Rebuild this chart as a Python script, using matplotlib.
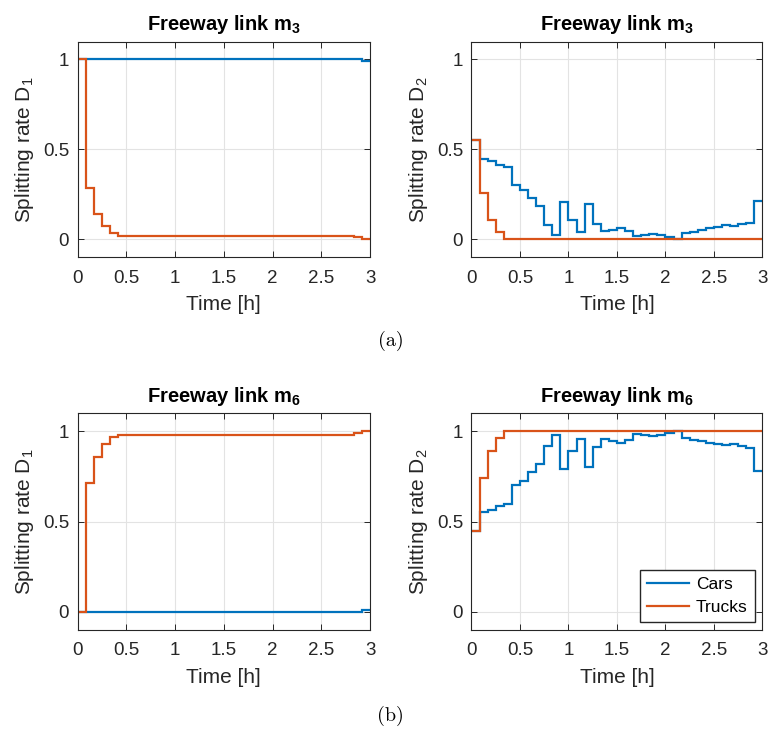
import matplotlib
matplotlib.use("Agg")
import matplotlib.pyplot as plt
import numpy as np

plt.rcParams['font.family'] = ['Liberation Sans', 'DejaVu Sans']
plt.rcParams['mathtext.fontset'] = 'custom'
plt.rcParams['mathtext.rm'] = 'Liberation Sans'
plt.rcParams['mathtext.bf'] = 'Liberation Sans:bold'
plt.rcParams['mathtext.it'] = 'Liberation Sans:italic'

# time grid: 36 intervals of 5 min over 3 hours
t_edges = np.linspace(0, 3, 37)

# (a) freeway link m3
m3_d1_cars = [1.0] * 35 + [0.99]
m3_d1_trucks = [1.0, 0.287, 0.142, 0.07, 0.035, 0.015, 0.015, 0.016, 0.017, 0.018,
                0.019, 0.019, 0.019, 0.018, 0.018, 0.018, 0.018, 0.018, 0.018, 0.018,
                0.018, 0.018, 0.018, 0.018, 0.017, 0.017, 0.017, 0.017, 0.016, 0.016,
                0.016, 0.016, 0.016, 0.015, 0.013, 0.0]
m3_d2_cars = [0.552, 0.446, 0.433, 0.413, 0.403, 0.30, 0.275, 0.227, 0.182, 0.08,
              0.024, 0.208, 0.108, 0.039, 0.195, 0.085, 0.043, 0.048, 0.061, 0.046,
              0.015, 0.022, 0.026, 0.02, 0.011, 0.0, 0.033, 0.041, 0.052, 0.059,
              0.069, 0.076, 0.074, 0.084, 0.089, 0.214]
m3_d2_trucks = [0.552, 0.257, 0.108, 0.037] + [0.0] * 32

# (b) freeway link m6
m6_d1_cars = [0.0] * 35 + [0.011]
m6_d1_trucks = [0.0, 0.717, 0.861, 0.932, 0.967, 0.983] + [0.98] * 28 + [0.989, 1.0]
m6_d2_cars = [0.448, 0.554, 0.567, 0.587, 0.599, 0.701, 0.725, 0.775, 0.82, 0.922,
              0.978, 0.79, 0.892, 0.959, 0.805, 0.914, 0.957, 0.948, 0.937, 0.954,
              0.987, 0.98, 0.974, 0.981, 0.989, 1.0, 0.963, 0.955, 0.946, 0.939,
              0.933, 0.926, 0.931, 0.922, 0.911, 0.783]
m6_d2_trucks = [0.448, 0.743, 0.89, 0.963] + [1.0] * 32

blue = '#0072BD'
orange = '#D95319'
dark = '#262626'

fig = plt.figure(figsize=(7.69, 7.31), dpi=100)

panels = [
    ([0.1008, 0.6484, 0.3804, 0.2948], m3_d1_cars, m3_d1_trucks, '3', '1'),
    ([0.6131, 0.6484, 0.3784, 0.2948], m3_d2_cars, m3_d2_trucks, '3', '2'),
    ([0.1008, 0.1382, 0.3804, 0.2962], m6_d1_cars, m6_d1_trucks, '6', '1'),
    ([0.6131, 0.1382, 0.3784, 0.2962], m6_d2_cars, m6_d2_trucks, '6', '2'),
]

axes = []
for rect, cars, trucks, link, d in panels:
    ax = fig.add_axes(rect)
    ax.stairs(cars, t_edges, baseline=None, color=blue, lw=1.6, label='Cars')
    ax.stairs(trucks, t_edges, baseline=None, color=orange, lw=1.6, label='Trucks')
    ax.set_xlim(0, 3)
    ax.set_ylim(-0.1, 1.1)
    ax.set_xticks([0, 0.5, 1, 1.5, 2, 2.5, 3])
    ax.set_xticklabels(['0', '0.5', '1', '1.5', '2', '2.5', '3'])
    ax.set_yticks([0, 0.5, 1])
    ax.set_yticklabels(['0', '0.5', '1'])
    ax.tick_params(direction='in', top=True, right=True, length=4, width=0.7,
                   colors=dark, labelsize=13.5)
    ax.tick_params(axis='x', pad=9)
    ax.tick_params(axis='y', pad=6)
    ax.grid(True, color='#e3e3e3', lw=0.8)
    ax.set_axisbelow(True)
    for s in ax.spines.values():
        s.set_color(dark)
        s.set_linewidth(0.8)
    ax.set_title(r'Freeway link m$_{\mathbf{%s}}$' % link, fontsize=14.5,
                 fontweight='bold', color='black', pad=8)
    ax.set_xlabel('Time [h]', fontsize=15, color=dark, labelpad=6)
    ax.set_ylabel(r'Splitting rate D$_{%s}$' % d, fontsize=15, color=dark, labelpad=5)
    axes.append(ax)

axes[3].legend(loc='lower right', fontsize=12.5, fancybox=False, edgecolor=dark,
               framealpha=1, handlelength=2.4, handletextpad=0.4,
               borderaxespad=0.45, labelspacing=0.45)

fig.text(0.508, 1 - 341 / 731, '(a)', family='cmr10', fontsize=14.5, ha='center', va='center')
fig.text(0.508, 1 - 716 / 731, '(b)', family='cmr10', fontsize=14.5, ha='center', va='center')

fig.savefig('out.png', dpi=100)
